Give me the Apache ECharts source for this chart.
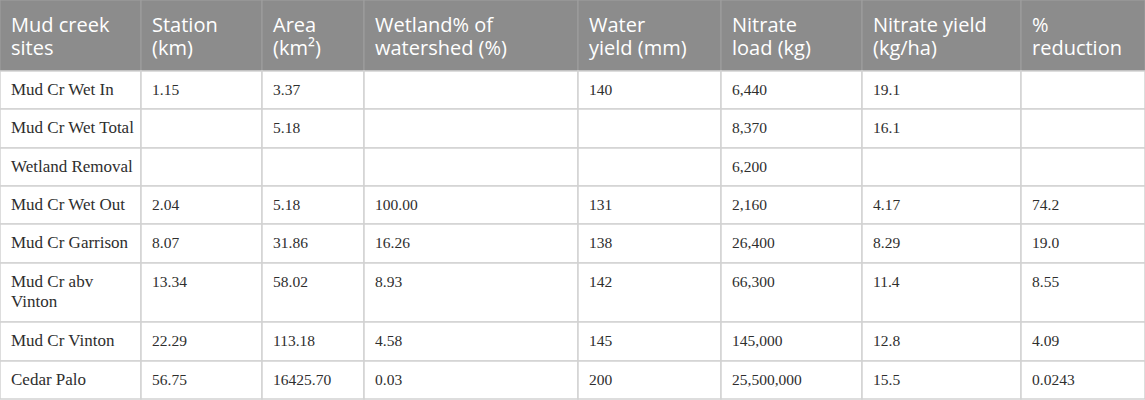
<!DOCTYPE html>
<html>
<head>
<meta charset="utf-8">
<script src="https://cdn.jsdelivr.net/npm/echarts@6/dist/echarts.min.js"></script>
<style>
  html, body { margin: 0; padding: 0; background: #fff; }
  #table { width: 1145px; height: 400px; }
</style>
</head>
<body>
<div id="table"></div>
<script>
// header labels
var columns = ['Mud creek\nsites', 'Station\n(km)', 'Area\n(km\u00B2)', 'Wetland% of\nwatershed (%)',
  'Water\nyield (mm)', 'Nitrate\nload (kg)', 'Nitrate yield\n(kg/ha)', '%\nreduction'];
// row labels
var sites = ['Mud Cr Wet In', 'Mud Cr Wet Total', 'Wetland Removal', 'Mud Cr Wet Out',
  'Mud Cr Garrison', 'Mud Cr abv Vinton', 'Mud Cr Vinton', 'Cedar Palo'];
// column values
var station = ['1.15', '', '', '2.04', '8.07', '13.34', '22.29', '56.75'];
var area = ['3.37', '5.18', '', '5.18', '31.86', '58.02', '113.18', '16425.70'];
var wetlandPct = ['', '', '', '100.00', '16.26', '8.93', '4.58', '0.03'];
var waterYield = ['140', '', '', '131', '138', '142', '145', '200'];
var nitrateLoad = ['6,440', '8,370', '6,200', '2,160', '26,400', '66,300', '145,000', '25,500,000'];
var nitrateYield = ['19.1', '16.1', '', '4.17', '8.29', '11.4', '12.8', '15.5'];
var reduction = ['', '', '', '74.2', '19.0', '8.55', '4.09', '0.0243'];

var valueCols = [sites, station, area, wetlandPct, waterYield, nitrateLoad, nitrateYield, reduction];

// 版式: 列宽, 行高 (像素)
var colWidths = [141, 121, 102, 214, 143, 141, 159, 124];
var headerHeight = 71;
var rowHeights = [38, 39, 38, 38, 39, 59, 39, 38];

var colEdges = [0];
for (var i = 0; i < colWidths.length; i++) colEdges.push(colEdges[i] + colWidths[i]);
var rowEdges = [0, headerHeight];
for (var j = 0; j < rowHeights.length; j++) rowEdges.push(rowEdges[j + 1] + rowHeights[j]);

var cells = [];
for (var c = 0; c < columns.length; c++) cells.push([c, -1]);
for (var r = 0; r < sites.length; r++) {
  for (var c2 = 0; c2 < columns.length; c2++) cells.push([c2, r]);
}

// 按单元格宽度折行
var measureCtx = document.createElement('canvas').getContext('2d');
function wrapText(text, font, maxWidth) {
  measureCtx.font = font;
  var words = text.split(' ');
  var lines = [];
  var line = '';
  for (var k = 0; k < words.length; k++) {
    var test = line ? line + ' ' + words[k] : words[k];
    if (line && measureCtx.measureText(test).width > maxWidth) {
      lines.push(line);
      line = words[k];
    } else {
      line = test;
    }
  }
  lines.push(line);
  return lines.join('\n');
}

function renderItem(params, api) {
  var c = api.value(0), r = api.value(1);
  var p0 = api.coord([colEdges[c], rowEdges[r + 1]]);
  var p1 = api.coord([colEdges[c + 1], rowEdges[r + 2]]);
  var w = p1[0] - p0[0], h = p1[1] - p0[1];
  var isHeader = r < 0;
  var isName = !isHeader && c === 0;
  var family = isHeader ? 'Open Sans' : 'Liberation Serif';
  var size = isHeader ? 20 : (isName ? 17 : 15.5);
  var txt = isHeader ? columns[c] : valueCols[c][r];
  if (!isHeader) txt = wrapText(txt, size + 'px "' + family + '"', w - 12);
  return {
    type: 'group',
    children: [
      {
        type: 'rect',
        shape: { x: p0[0], y: p0[1], width: w, height: h },
        style: isHeader
          ? { fill: '#8c8c8c', stroke: '#9f9f9f', lineWidth: 1 }
          : { fill: '#ffffff', stroke: '#d2d2d2', lineWidth: 1.5 }
      },
      {
        type: 'text',
        z2: 10,
        style: {
          x: p0[0] + 11,
          y: p0[1] + (isHeader ? 13 : 8),
          text: txt,
          fill: isHeader ? '#ffffff' : '#2e2e2e',
          fontFamily: family,
          fontSize: size,
          lineHeight: isHeader ? 23 : 20,
          align: 'left',
          verticalAlign: 'top'
        }
      }
    ]
  };
}

var myChart = echarts.init(document.getElementById('table'), null, { renderer: 'svg' });
var option = {
  animation: false,
  grid: { left: 0, right: 0, top: 0, bottom: 0 },
  xAxis: { type: 'value', min: 0, max: colEdges[colEdges.length - 1], show: false },
  yAxis: { type: 'value', min: 0, max: 400, inverse: true, show: false },
  series: [{
    type: 'custom',
    clip: false,
    renderItem: renderItem,
    data: cells
  }]
};
myChart.setOption(option);
</script>
</body>
</html>
